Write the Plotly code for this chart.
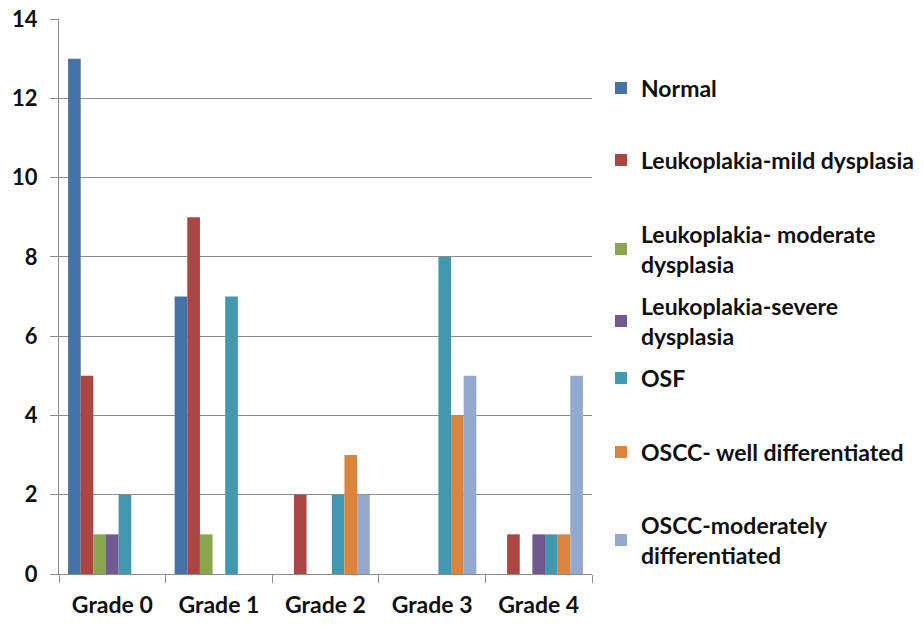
import plotly.graph_objects as go

categories = ["Grade 0", "Grade 1", "Grade 2", "Grade 3", "Grade 4"]
series_names = [
    "Normal",
    "Leukoplakia-mild dysplasia",
    "Leukoplakia- moderate<br>dysplasia",
    "Leukoplakia-severe<br>dysplasia",
    "OSF",
    "OSCC- well differentiated",
    "OSCC-moderately<br>differentiated",
]
normal = [13, 7, 0, 0, 0]
mild = [5, 9, 2, 0, 1]
moderate = [1, 1, 0, 0, 0]
severe = [1, 0, 0, 0, 1]
osf = [2, 7, 2, 8, 1]
oscc_well = [0, 0, 3, 4, 1]
oscc_mod = [0, 0, 2, 5, 5]
values = [normal, mild, moderate, severe, osf, oscc_well, oscc_mod]
colors = ["#4572A7", "#AA4643", "#89A54E", "#71588F", "#4198AF", "#DB843D", "#93A9CF"]
y_ticks = [0, 2, 4, 6, 8, 10, 12, 14]

# legend centre positions (pixels from top) as in reference
legend_px = [88, 160, 249, 321, 378, 452, 540]

W, H = 923, 626
ml, mr, mt, mb = 59, 331, 19, 52
plot_h = H - mt - mb
plot_w = W - ml - mr

font_family = "Lato, 'Open Sans', sans-serif"

fig = go.Figure()
layout_legends = {}
for i, (name, vals, col) in enumerate(zip(series_names, values, colors)):
    key = "legend" if i == 0 else f"legend{i+1}"
    fig.add_trace(go.Bar(
        x=categories, y=vals, name=name, marker_color=col,
        marker_line_width=0, legend=key,
    ))
    layout_legends[key] = dict(
        x=(601 - ml) / plot_w,
        y=(H - mb - legend_px[i]) / plot_h,
        xanchor="left", yanchor="middle",
        bgcolor="rgba(0,0,0,0)",
        font=dict(family=font_family, size=23, color="#111", weight=700),
        itemwidth=30,
        tracegroupgap=0,
        valign="middle",
    )

fig.update_layout(
    width=W, height=H,
    margin=dict(l=ml, r=mr, t=mt, b=mb, autoexpand=False),
    paper_bgcolor="white", plot_bgcolor="white",
    barmode="group", bargap=0.17, bargroupgap=0,
    showlegend=True,
    font=dict(family=font_family, color="#111"),
    **layout_legends,
)
fig.update_xaxes(
    showline=True, linecolor="#8c8c8c", linewidth=1,
    ticks="outside", tickson="boundaries", ticklen=8, tickcolor="#8c8c8c",
    tickfont=dict(family=font_family, size=23, color="#111", weight=700),
    ticklabelstandoff=10,
    showgrid=False, automargin=False,
)
fig.update_yaxes(
    range=[0, 14], tickvals=y_ticks, ticktext=[str(v) for v in y_ticks],
    showline=True, linecolor="#8c8c8c", linewidth=1,
    ticks="outside", ticklen=8, tickcolor="#8c8c8c",
    showgrid=True, gridcolor="#8c8c8c", gridwidth=1,
    tickfont=dict(family=font_family, size=22, color="#111", weight=700),
    ticklabelstandoff=8,
    zeroline=False, automargin=False,
)

fig.write_html(
    "out.html",
    config={"displayModeBar": False},
    post_script="document.body.style.margin='0';document.body.style.overflow='hidden';",
)
